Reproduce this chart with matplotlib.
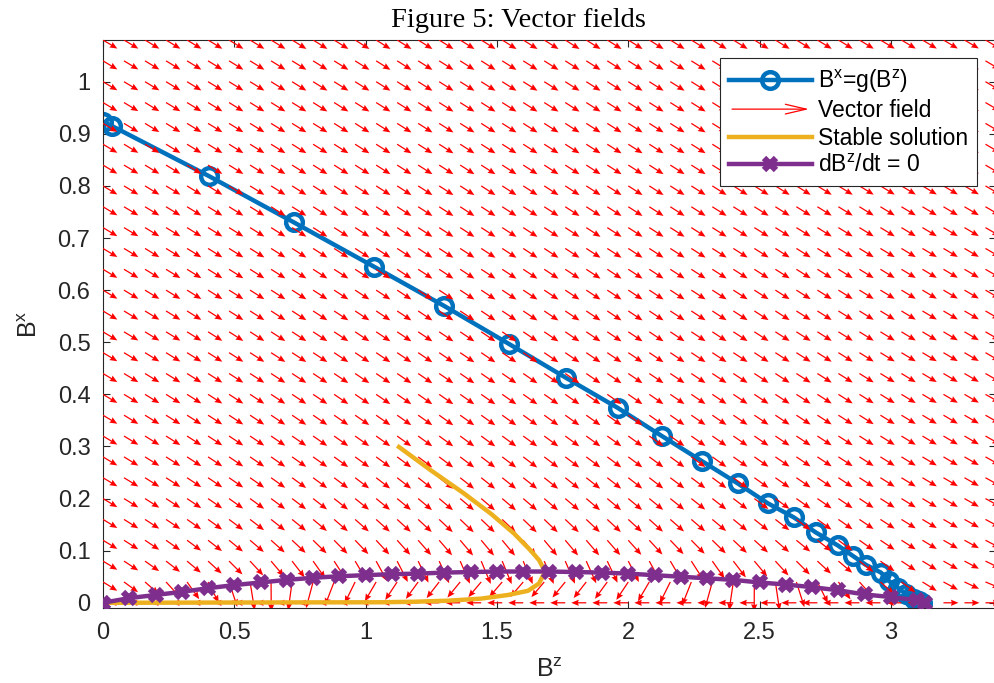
import numpy as np
import matplotlib
matplotlib.use('Agg')
import matplotlib.pyplot as plt
from matplotlib.patches import FancyArrowPatch
from matplotlib.legend_handler import HandlerBase

plt.rcParams['font.family'] = ['Liberation Sans', 'DejaVu Sans']
plt.rcParams['mathtext.fontset'] = 'custom'
plt.rcParams['mathtext.rm'] = 'Liberation Sans'
plt.rcParams['mathtext.it'] = 'Liberation Sans:italic'

# B^x = g(B^z) curve (circle markers)
g_bz = [0.0, 0.034, 0.403, 0.727, 1.032, 1.298, 1.545, 1.762, 1.960, 2.128, 2.280,
        2.417, 2.531, 2.630, 2.714, 2.798, 2.855, 2.904, 2.962, 2.992, 3.026, 3.057,
        3.087, 3.105, 3.12]
g_bx = [0.923, 0.915, 0.819, 0.730, 0.645, 0.570, 0.497, 0.432, 0.374, 0.320, 0.272,
        0.229, 0.191, 0.164, 0.135, 0.110, 0.090, 0.073, 0.058, 0.042, 0.029, 0.017,
        0.008, 0.004, 0.0]

# stable solution
stab_bz = [1.127, 1.249, 1.374, 1.477, 1.565, 1.629, 1.660, 1.677, 1.679, 1.660, 1.618,
           1.542, 1.439, 1.313, 1.184, 1.058, 0.8, 0.5, 0.2, 0.0]
stab_bx = [0.299, 0.254, 0.210, 0.171, 0.133, 0.100, 0.082, 0.066, 0.056, 0.037, 0.023,
           0.015, 0.008, 0.004, 0.002, 0.001, 0.0008, 0.0005, 0.0002, 0.0]

# dB^z/dt = 0 nullcline
null_bz = [0.0, 0.1, 0.2, 0.3, 0.4, 0.5, 0.6, 0.7, 0.8, 0.9, 1.0, 1.1, 1.2, 1.3, 1.4,
           1.5, 1.6, 1.7, 1.8, 1.9, 2.0, 2.1, 2.2, 2.3, 2.4, 2.5, 2.6, 2.7, 2.8, 2.9,
           3.0, 3.1, 3.13]
null_bx = [0.0, 0.009, 0.015, 0.021, 0.028, 0.034, 0.039, 0.044, 0.048, 0.051, 0.053,
           0.055, 0.056, 0.058, 0.059, 0.060, 0.060, 0.060, 0.059, 0.058, 0.056, 0.053,
           0.050, 0.047, 0.044, 0.039, 0.035, 0.030, 0.024, 0.016, 0.011, 0.005, 0.0]

# vector field grid
grid_bz = np.arange(0, 3.41, 0.08)
grid_bx = np.arange(0, 1.0801, 0.04)
relax_ratio = 0.30   # dBx/dt relative rate
arrow_len = 0.057

Z, X = np.meshgrid(grid_bz, grid_bx)
p = np.polyval(np.polyfit(null_bz, null_bx, 2), Z)
U = X - p
V = -relax_ratio * X
n = np.hypot(U, V)
n[n == 0] = 1
U = U / n * arrow_len
V = V / n * arrow_len

c_blue = '#0072BD'
c_yel = '#EDB120'
c_pur = '#7E2F8E'


class ArrowHandler(HandlerBase):
    def create_artists(self, legend, orig_handle, xdescent, ydescent, width, height, fontsize, trans):
        y = height / 2 - ydescent
        a = FancyArrowPatch((-xdescent, y), (width - xdescent, y),
                            arrowstyle='->,head_length=1.5,head_width=0.35',
                            color='r', lw=0.9, mutation_scale=10, transform=trans)
        return [a]


fig = plt.figure(figsize=(9.95, 6.83), dpi=100)
ax = fig.add_axes([0.1035, 0.1098, 0.8975, 0.8316])

l1, = ax.plot(g_bz, g_bx, '-o', color=c_blue, lw=3.2, ms=12, mew=3.2, mfc='none',
              label='B$^{\\mathrm{x}}$=g(B$^{\\mathrm{z}}$)', zorder=2)
q = ax.quiver(Z, X, U, V, color='r', angles='xy', scale_units='xy', scale=1,
              width=0.0014, headwidth=5, headlength=6, headaxislength=5.4,
              label='Vector field', zorder=3)
l3, = ax.plot(stab_bz, stab_bx, '-', color=c_yel, lw=3.2, label='Stable solution', zorder=4)
l4, = ax.plot(null_bz, null_bx, '-x', color=c_pur, lw=3.2, ms=9, mew=4.5,
              label='dB$^{\\mathrm{z}}$/dt = 0', zorder=5)

ax.set_xlim(0, 3.4)
ax.set_ylim(-0.01, 1.08)
ax.set_xticks(np.arange(0, 3.01, 0.5))
ax.set_xticklabels(['0', '0.5', '1', '1.5', '2', '2.5', '3'])
ax.set_yticks(np.arange(0, 1.01, 0.1))
ax.set_yticklabels(['0', '0.1', '0.2', '0.3', '0.4', '0.5', '0.6', '0.7', '0.8', '0.9', '1'])
ax.tick_params(direction='in', top=True, right=True, length=5, width=0.8,
               labelsize=17, colors='#262626', pad=9)
ax.tick_params(axis='x', pad=10)
for s in ax.spines.values():
    s.set_color('#262626')
    s.set_linewidth(0.8)

ax.set_xlabel('B$^{\\mathrm{z}}$', fontsize=18, color='#262626', labelpad=10)
ax.set_ylabel('B$^{\\mathrm{x}}$', fontsize=18, color='#262626', labelpad=11)

fig.text(518 / 995, 1 - 27 / 683, 'Figure 5: Vector fields', ha='center', va='baseline',
         fontsize=20.5, family='Liberation Serif')

leg = ax.legend(handles=[l1, q, l3, l4], handler_map={q: ArrowHandler()},
                loc='upper right', bbox_to_anchor=(0.9787, 0.968), borderaxespad=0,
                fontsize=16.5, handlelength=3.6, labelspacing=0.2, fancybox=False,
                edgecolor='#262626', framealpha=1, borderpad=0.4, handletextpad=0.26)
leg.get_frame().set_linewidth(0.8)

plt.savefig('out.png', dpi=100)
